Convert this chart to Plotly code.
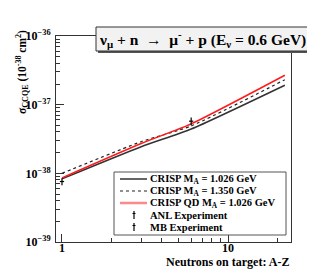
import plotly.graph_objects as go

# ---- data ----
neutrons = [1, 3, 6, 22]
crisp_1026 = [0.83e-38, 2.44e-38, 4.42e-38, 1.92e-37]
crisp_1350 = [1.00e-38, 2.89e-38, 4.90e-38, 2.31e-37]
crisp_qd_1026 = [0.86e-38, 2.72e-38, 5.25e-38, 2.68e-37]

anl_x = [1]
anl_y = [0.76e-38]
anl_err = [0.09e-38]

mb_x = [6]
mb_y = [5.75e-38]
mb_err = [0.75e-38]

x_tickvals = [1, 10]
x_ticktext = ["1", "10"]
x_minor = [2, 3, 4, 5, 6, 7, 8, 9, 20]
y_tickvals = [1e-39, 1e-38, 1e-37, 1e-36]
y_ticktext = ["10<sup>\u221239</sup>", "10<sup>\u221238</sup>", "10<sup>\u221237</sup>", "10<sup>\u221236</sup>"]
y_minor = [m * 10.0 ** e for e in (-39, -38, -37) for m in range(2, 10)]

legend_labels = [
    "CRISP M<sub>A</sub> = 1.026 GeV",
    "CRISP M<sub>A</sub> = 1.350 GeV",
    "CRISP QD M<sub>A</sub> = 1.026 GeV",
    "ANL Experiment",
    "MB Experiment",
]

SERIF = "Liberation Serif, Times New Roman, serif"
AX = "#333333"

fig = go.Figure()
fig.add_trace(go.Scatter(x=neutrons, y=crisp_1026, mode="lines",
                         line=dict(color="#333333", width=1.5, shape="spline", smoothing=0.6),
                         showlegend=False))
fig.add_trace(go.Scatter(x=neutrons, y=crisp_1350, mode="lines",
                         line=dict(color="#222222", width=1.2, dash="dot", shape="spline", smoothing=0.6),
                         showlegend=False))
fig.add_trace(go.Scatter(x=neutrons, y=crisp_qd_1026, mode="lines",
                         line=dict(color="#ff1a1a", width=1.5, shape="spline", smoothing=0.6),
                         showlegend=False))
for xs, ys, es in ((anl_x, anl_y, anl_err), (mb_x, mb_y, mb_err)):
    fig.add_trace(go.Scatter(x=xs, y=ys, mode="markers",
                             marker=dict(symbol="line-ew", size=3, color="black",
                                         line=dict(color="black", width=1.2)),
                             error_y=dict(type="data", array=es, visible=True,
                                          color="black", thickness=1.2, width=0),
                             showlegend=False))

L, R, T, B = 48, 32, 28, 42
W, H = 315, 276
PW, PH = W - L - R, H - T - B


def px(x):
    return (x - L) / PW


def py(y):
    return (T + PH - y) / PH


shapes = []
annotations = []

# title box with shadow
shapes.append(dict(type="rect", xref="paper", yref="paper", layer="above",
                   x0=px(90), x1=px(303), y0=py(45), y1=py(21),
                   fillcolor="#555555", line=dict(width=0)))
shapes.append(dict(type="rect", xref="paper", yref="paper", layer="above",
                   x0=px(88), x1=px(301), y0=py(43), y1=py(19),
                   fillcolor="#f2f2f2", line=dict(color="#333333", width=1)))
annotations.append(dict(xref="paper", yref="paper", x=px(194.5), y=py(31),
                        xanchor="center", yanchor="middle", showarrow=False,
                        text="<b>\u03bd<sub>\u03bc</sub> + n  \u2192  \u03bc<sup>-</sup> + p (E<sub>\u03bd</sub> = 0.6 GeV)</b>",
                        font=dict(family=SERIF, size=15.5, color="black")))

# legend box
shapes.append(dict(type="rect", xref="paper", yref="paper", layer="above",
                   x0=px(106), x1=px(278), y0=py(227), y1=py(164),
                   fillcolor="white", line=dict(color="#555555", width=1)))
rows = [171, 183, 195, 207, 219]
line_styles = [dict(color="#333333", width=1.5),
               dict(color="#222222", width=1.2, dash="dot"),
               dict(color="rgba(255,40,40,0.55)", width=2.5)]
for i, st in enumerate(line_styles):
    shapes.append(dict(type="line", xref="paper", yref="paper", layer="above",
                       x0=px(112), x1=px(139), y0=py(rows[i]), y1=py(rows[i]), line=st))
for r in rows[3:]:
    shapes.append(dict(type="line", xref="paper", yref="paper", layer="above",
                       x0=px(126), x1=px(126), y0=py(r - 4), y1=py(r + 4),
                       line=dict(color="black", width=1.2)))
    shapes.append(dict(type="line", xref="paper", yref="paper", layer="above",
                       x0=px(124.5), x1=px(127.5), y0=py(r - 1.5), y1=py(r - 1.5),
                       line=dict(color="black", width=1)))
for r, lab in zip(rows, legend_labels):
    annotations.append(dict(xref="paper", yref="paper", x=px(140), y=py(r),
                            xanchor="left", yanchor="middle", showarrow=False,
                            text="<b>" + lab + "</b>",
                            font=dict(family=SERIF, size=10.5, color="black")))

# axis titles
annotations.append(dict(xref="paper", yref="paper", x=0, xshift=-34, y=1, yshift=8,
                        xanchor="center", yanchor="top", showarrow=False, textangle=-90,
                        text="<b>\u03c3<sub>CCQE</sub> (10<sup>-38</sup> cm<sup>2</sup>)</b>",
                        font=dict(family=SERIF, size=11.5, color="black")))
annotations.append(dict(xref="paper", yref="paper", x=px(283), y=py(254),
                        xanchor="right", yanchor="middle", showarrow=False,
                        text="<b>Neutrons on target: A-Z</b>",
                        font=dict(family=SERIF, size=12, color="black")))

fig.update_layout(
    width=W, height=H,
    margin=dict(l=L, r=R, t=T, b=B, pad=0),
    paper_bgcolor="white", plot_bgcolor="white",
    showlegend=False,
    shapes=shapes, annotations=annotations,
    xaxis=dict(type="log", range=[-0.0361, 1.3795], showgrid=False, zeroline=False,
               showline=True, linecolor=AX, linewidth=1, mirror=True,
               tickmode="array", tickvals=x_tickvals, ticktext=x_ticktext,
               ticks="inside", ticklen=8, tickcolor=AX, tickwidth=1,
               ticklabelstandoff=-5,
               tickfont=dict(family=SERIF, size=12, color="black", weight="bold"),
               minor=dict(tickmode="array", tickvals=x_minor, ticks="inside",
                          ticklen=4, tickcolor=AX, tickwidth=1, showgrid=False)),
    yaxis=dict(type="log", range=[-39, -36], showgrid=False, zeroline=False,
               showline=True, linecolor=AX, linewidth=1, mirror=True,
               tickmode="array", tickvals=y_tickvals, ticktext=y_ticktext,
               ticks="inside", ticklen=8, tickcolor=AX, tickwidth=1,
               ticklabelstandoff=2,
               tickfont=dict(family=SERIF, size=12, color="black", weight="bold"),
               minor=dict(tickmode="array", tickvals=y_minor, ticks="inside",
                          ticklen=4, tickcolor=AX, tickwidth=1, showgrid=False)),
)

fig.write_html("out.html")
